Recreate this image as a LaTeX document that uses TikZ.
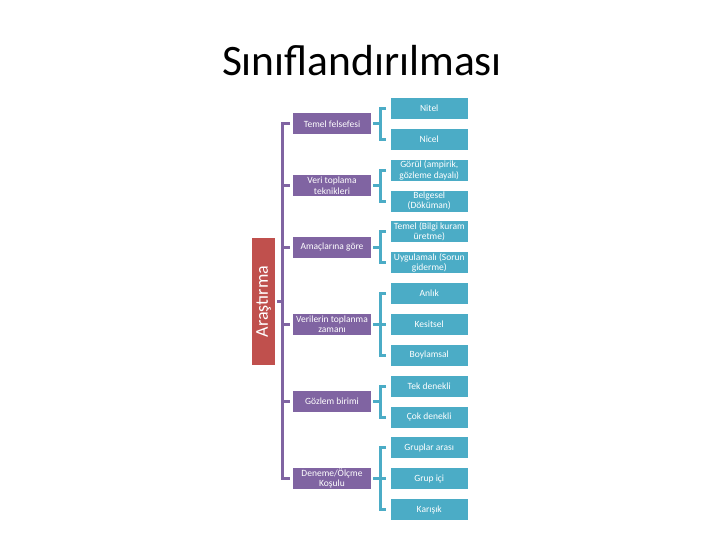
\documentclass[tikz,border=0pt]{standalone}
\usepackage{fontspec}
\setmainfont{Carlito}
\usetikzlibrary{calc,positioning}
\definecolor{rootred}{RGB}{192,80,77}
\definecolor{catpurple}{RGB}{128,100,162}
\definecolor{subteal}{RGB}{75,172,198}
\tikzset{
  root/.style={fill=rootred, text=white, rectangle, minimum width=23pt, minimum height=127pt, inner sep=0pt, outer sep=0pt, font=\fontsize{18}{21}\selectfont},
  cat/.style={fill=catpurple, text=white, rectangle, minimum width=78pt, minimum height=21pt, inner sep=0pt, outer sep=0pt, align=center, font=\fontsize{9.5}{10.5}\selectfont},
  sub/.style={fill=subteal, text=white, rectangle, minimum width=77.5pt, minimum height=21pt, inner sep=0pt, outer sep=0pt, align=center, font=\fontsize{9.5}{10.5}\selectfont},
  trunk/.style={draw=catpurple, line width=3pt},
  brace/.style={draw=subteal, line width=3pt},
  heading/.style={inner sep=0pt, anchor=base}
}

\begin{document}
\begin{tikzpicture}[x=1pt, y=-1pt, node distance=9.85pt]
  \useasboundingbox[fill=white] (0,0) rectangle (720,540);

  \node[heading] (title) at (362,76) {\resizebox{280pt}{!}{\fontsize{40}{48}\selectfont Sınıflandırılması}};

  \node[sub] (nitel) at (429.25,108.5) {Nitel};
  \node[sub, below=of nitel] (nicel) {Nicel};
  \node[sub, below=of nicel] (gorgul) {Görül (ampirik,\\gözleme dayalı)};
  \node[sub, below=of gorgul] (belgesel) {Belgesel\\(Döküman)};
  \node[sub, below=of belgesel] (temel) {Temel (Bilgi kuram\\üretme)};
  \node[sub, below=of temel] (uygulamali) {Uygulamalı (Sorun\\giderme)};
  \node[sub, below=of uygulamali] (anlik) {Anlık};
  \node[sub, below=of anlik] (kesitsel) {Kesitsel};
  \node[sub, below=of kesitsel] (boylamsal) {Boylamsal};
  \node[sub, below=of boylamsal] (tek) {Tek denekli};
  \node[sub, below=of tek] (cok) {Çok denekli};
  \node[sub, below=of cok] (gruplar) {Gruplar arası};
  \node[sub, below=of gruplar] (grupici) {Grup içi};
  \node[sub, below=of grupici] (karisik) {Karışık};

  \node[cat, anchor=east] (felsefe) at ($(nitel.west)!0.5!(nicel.west)+(-19.5,0)$) {Temel felsefesi};
  \node[cat, anchor=east] (veri) at ($(gorgul.west)!0.5!(belgesel.west)+(-19.5,0)$) {Veri toplama\\teknikleri};
  \node[cat, anchor=east] (amac) at ($(temel.west)!0.5!(uygulamali.west)+(-19.5,0)$) {Amaçlarına göre};
  \node[cat, anchor=east] (zaman) at ($(kesitsel.west)+(-19.5,0)$) {Verilerin toplanma\\zamanı};
  \node[cat, anchor=east] (gozlem) at ($(tek.west)!0.5!(cok.west)+(-19.5,0)$) {Gözlem birimi};
  \node[cat, anchor=east] (kosul) at ($(grupici.west)+(-19.5,0)$) {Deneme/Ölçme\\Koşulu};

  \node[root] (root) at (263.5,301.5) {\rotatebox{90}{Araştırma}};

  \draw[trunk] ([xshift=-3pt]felsefe.west) -| ([xshift=-10.5pt]kosul.west) -- ([xshift=-3pt]kosul.west);
  \foreach \c in {veri,amac,zaman,gozlem}
    \draw[trunk] ([xshift=-10.5pt]\c.west) -- ([xshift=-3pt]\c.west);
  \draw[trunk] ([xshift=2pt]root.east) -- ($(root.east -| felsefe.west)+(-10.5,0)$);

  \foreach \p/\a/\b in {felsefe/nitel/nicel, veri/gorgul/belgesel, amac/temel/uygulamali,
                        zaman/anlik/boylamsal, gozlem/tek/cok, kosul/gruplar/karisik} {
    \draw[brace] ([xshift=-4.5pt]\a.west) -| ([xshift=-10pt]\b.west) -- ([xshift=-4.5pt]\b.west);
    \draw[brace] ([xshift=2pt]\p.east) -- ($(\p.east -| \a.west)+(-10,0)$);
  }
  \draw[brace] ([xshift=-10pt]kesitsel.west) -- ([xshift=-4.5pt]kesitsel.west);
  \draw[brace] ([xshift=-10pt]grupici.west) -- ([xshift=-4.5pt]grupici.west);
\end{tikzpicture}
\end{document}
